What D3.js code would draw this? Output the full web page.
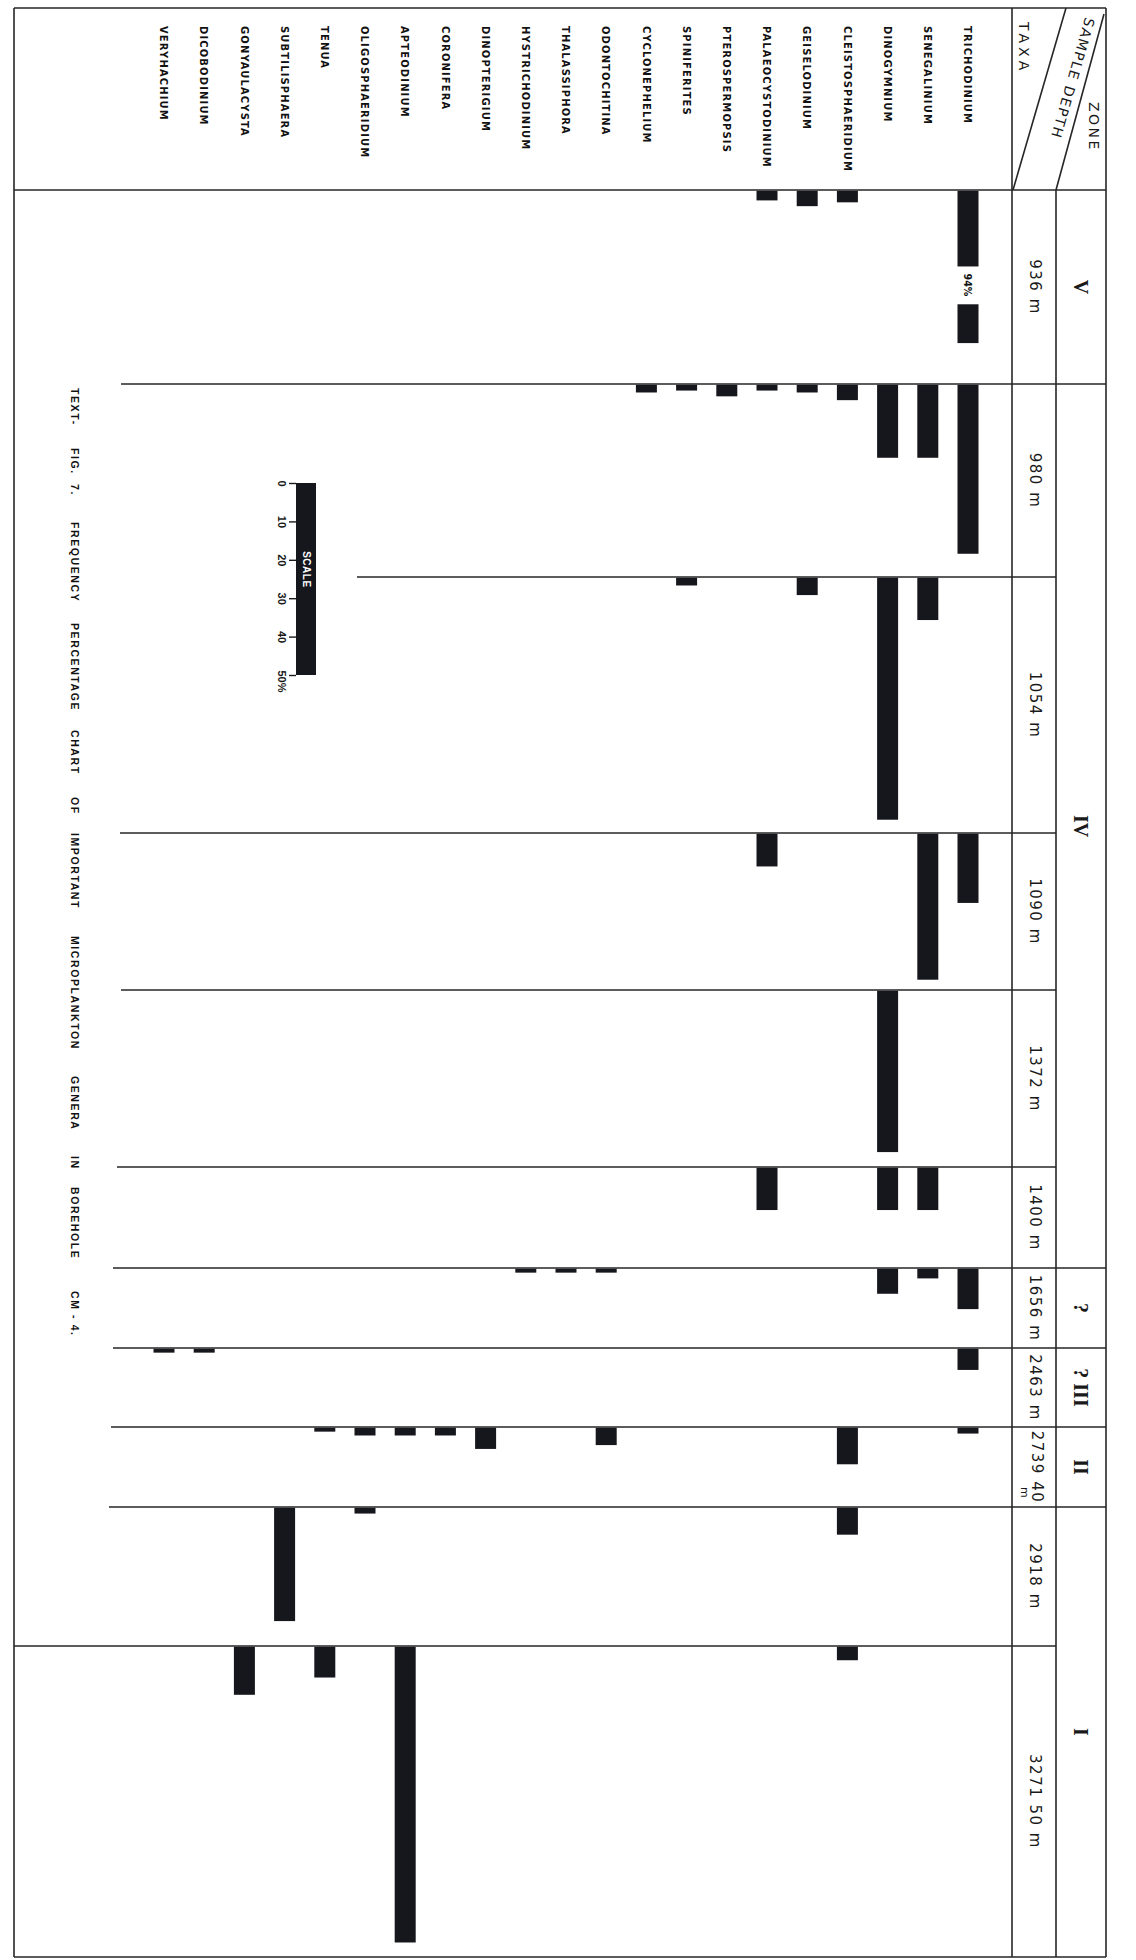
<!DOCTYPE html>
<html>
<head>
<script src="https://cdn.jsdelivr.net/npm/d3@7"></script>
<style type="text/css">
	body { margin: 0; background: #ffffff; }
	.frame { stroke: #262626; stroke-width: 1.6; fill: none; }
	.bar { fill: #16161d; }
	.taxon { font-family: "Liberation Sans Narrow", "DejaVu Sans Condensed", "Liberation Sans", sans-serif; font-weight: bold; font-size: 11px; letter-spacing: 1.2px; fill: #111; }
	.depth { font-family: "DejaVu Sans", sans-serif; font-size: 15px; letter-spacing: 1.5px; fill: #1a1a1a; }
	.zone { font-family: "Liberation Serif", "DejaVu Serif", serif; font-weight: bold; font-size: 20px; fill: #1a1a1a; }
	.head { font-family: "DejaVu Sans", sans-serif; font-size: 14px; fill: #1a1a1a; }
	.title { font-family: "Liberation Sans", sans-serif; font-weight: bold; font-size: 10.5px; letter-spacing: 1.6px; fill: #111; }
	.scale text { font-family: "Liberation Sans", sans-serif; font-weight: bold; font-size: 11px; fill: #1a1a1a; }
</style>
</head>
<body>
<div id="chart"></div>
<script>

// ---- data ----
var taxa = ["TRICHODINIUM", "SENEGALINIUM", "DINOGYMNIUM", "CLEISTOSPHAERIDIUM", "GEISELODINIUM",
	"PALAEOCYSTODINIUM", "PTEROSPERMOPSIS", "SPINIFERITES", "CYCLONEPHELIUM", "ODONTOCHITINA",
	"THALASSIPHORA", "HYSTRICHODINIUM", "DINOPTERIGIUM", "CORONIFERA", "APTEODINIUM",
	"OLIGOSPHAERIDIUM", "TENUA", "SUBTILISPHAERA", "GONYAULACYSTA", "DICOBODINIUM", "VERYHACHIUM"];

var depths = ["936 m", "980 m", "1054 m", "1090 m", "1372 m", "1400 m", "1656 m", "2463 m", "2739 40 m", "2918 m", "3271 50 m"];

// frequency % of each taxon (same order as taxa) in each sample
var f936  = [94, 0, 0, 3, 4, 2.5, 0, 0, 0, 0, 0, 0, 0, 0, 0, 0, 0, 0, 0, 0, 0];
var f980  = [44, 19, 19, 4, 2, 1.5, 3, 1.5, 2, 0, 0, 0, 0, 0, 0, 0, 0, 0, 0, 0, 0];
var f1054 = [0, 11, 63, 0, 4.5, 0, 0, 2, 0, 0, 0, 0, 0, 0, 0, 0, 0, 0, 0, 0, 0];
var f1090 = [18, 38, 0, 0, 0, 8.5, 0, 0, 0, 0, 0, 0, 0, 0, 0, 0, 0, 0, 0, 0, 0];
var f1372 = [0, 0, 42, 0, 0, 0, 0, 0, 0, 0, 0, 0, 0, 0, 0, 0, 0, 0, 0, 0, 0];
var f1400 = [0, 11, 11, 0, 0, 11, 0, 0, 0, 0, 0, 0, 0, 0, 0, 0, 0, 0, 0, 0, 0];
var f1656 = [10.5, 2.5, 6.5, 0, 0, 0, 0, 0, 0, 1, 1, 1, 0, 0, 0, 0, 0, 0, 0, 0, 0];
var f2463 = [5.5, 0, 0, 0, 0, 0, 0, 0, 0, 0, 0, 0, 0, 0, 0, 0, 0, 0, 0, 1, 1];
var f2739 = [1.5, 0, 0, 9.5, 0, 0, 0, 0, 0, 4.5, 0, 0, 5.5, 2, 2, 2, 1, 0, 0, 0, 0];
var f2918 = [0, 0, 0, 7, 0, 0, 0, 0, 0, 0, 0, 0, 0, 0, 0, 1.5, 0, 29.5, 0, 0, 0];
var f3271 = [0, 0, 0, 3.5, 0, 0, 0, 0, 0, 0, 0, 0, 0, 0, 77, 0, 8, 0, 12.5, 0, 0];

var zones = ["V", "IV", "?", "? III", "II", "I"];
var zoneFirst = [0, 1, 6, 7, 8, 9];   // first sample of each zone
var zoneLast  = [0, 5, 6, 7, 8, 10];  // last sample of each zone

var scaleTicks = [0, 10, 20, 30, 40, 50];

var titleWords = ["TEXT-", "FIG.", "7.", "FREQUENCY", "PERCENTAGE", "CHART", "OF", "IMPORTANT",
	"MICROPLANKTON", "GENERA", "IN", "BOREHOLE", "CM - 4."];

var samples = [f936, f980, f1054, f1090, f1372, f1400, f1656, f2463, f2739, f2918, f3271];

// ---- layout ----
var W = 1136, H = 1960;
var frameL = 14, frameR = 1106, frameT = 8, frameB = 1957;
var colTaxaR = 1012, colDepthR = 1056;
var rowEdges = [190, 384, 577, 833, 990, 1167, 1268, 1348, 1427, 1507, 1646, frameB];
var lineStart = [frameL, 121, 357, 120, 121, 117, 113, 113, 111, 109, frameL];
var titleAt = [388, 448, 484, 522, 623, 730, 797, 833, 936, 1076, 1156, 1187, 1291];
var barW = 21;

var svg = d3.select("#chart").append("svg")
	.attr("width", W)
	.attr("height", H);

var x = d3.scalePoint().domain(taxa).range([968, 164]);
var len = d3.scaleLinear().domain([0, 50]).range([0, 192]);

// outer frame and header lines
var frame = svg.append("g").attr("class", "frame");
frame.append("line").attr("x1", frameL).attr("y1", frameT).attr("x2", frameR).attr("y2", frameT);
frame.append("line").attr("x1", frameL).attr("y1", frameT).attr("x2", frameL).attr("y2", frameB);
frame.append("line").attr("x1", frameR).attr("y1", frameT).attr("x2", frameR).attr("y2", frameB);
frame.append("line").attr("x1", frameL).attr("y1", frameB).attr("x2", frameR).attr("y2", frameB);
frame.append("line").attr("x1", colTaxaR).attr("y1", frameT).attr("x2", colTaxaR).attr("y2", frameB);
frame.append("line").attr("x1", colDepthR).attr("y1", rowEdges[0]).attr("x2", colDepthR).attr("y2", frameB);
// the two diagonals of the header cell
frame.append("line").attr("x1", colTaxaR + 1).attr("y1", rowEdges[0]).attr("x2", 1066).attr("y2", frameT);
frame.append("line").attr("x1", colDepthR).attr("y1", rowEdges[0]).attr("x2", 1104).attr("y2", 14);

// row lines (one for each sample)
frame.selectAll("line.row")
	.data(depths)
	.enter().append("line")
	.attr("class", "row")
	.attr("x1", function(d, i) { return lineStart[i]; })
	.attr("x2", colDepthR)
	.attr("y1", function(d, i) { return rowEdges[i]; })
	.attr("y2", function(d, i) { return rowEdges[i]; });

// zone boundaries
frame.selectAll("line.zoneline")
	.data(zones)
	.enter().append("line")
	.attr("class", "zoneline")
	.attr("x1", colDepthR).attr("x2", frameR)
	.attr("y1", function(d, i) { return rowEdges[zoneFirst[i]]; })
	.attr("y2", function(d, i) { return rowEdges[zoneFirst[i]]; });

// header texts
function vtext(g, cls, tx, ty, angle, txt) {
	return g.append("text")
		.attr("class", cls)
		.attr("transform", "translate(" + tx + "," + ty + ") rotate(" + angle + ")")
		.attr("dy", "0.35em")
		.text(txt);
}
vtext(svg, "head", 1024, 22, 90, "TAXA").style("letter-spacing", "4px");
vtext(svg, "head", 1090, 18, 106, "SAMPLE  DEPTH").style("letter-spacing", "1.5px");
vtext(svg, "head", 1094, 102, 90, "ZONE").style("letter-spacing", "2.5px");

// taxa names
svg.selectAll("text.taxon")
	.data(taxa)
	.enter().append("text")
	.attr("class", "taxon")
	.attr("transform", function(d) { return "translate(" + x(d) + ",26) rotate(90)"; })
	.attr("dy", "0.35em")
	.text(function(d) { return d; });

// sample depths
var midX = (colTaxaR + colDepthR) / 2;
depths.forEach(function(d, i) {
	var cy = (rowEdges[i] + rowEdges[i + 1]) / 2;
	var parts = d.split(" m");
	var t = vtext(svg, "depth", midX + 1, cy, 90, d).attr("text-anchor", "middle");
	if (rowEdges[i + 1] - rowEdges[i] < 90 && d.length > 7) {
		// short row: unit tucked under the number
		t.text(parts[0]).attr("dy", "0.2em");
		vtext(svg, "depth", midX - 9, cy + 26, 90, "m").style("font-size", "11px").attr("text-anchor", "middle");
	}
});

// zones
zones.forEach(function(z, i) {
	var cy = (rowEdges[zoneFirst[i]] + rowEdges[zoneLast[i] + 1]) / 2;
	vtext(svg, "zone", (colDepthR + frameR) / 2, cy, 90, z).attr("text-anchor", "middle");
});

// bars
var bars = svg.append("g");
samples.forEach(function(vals, r) {
	var top = rowEdges[r] + 0.8;
	var h = rowEdges[r + 1] - rowEdges[r];
	vals.forEach(function(v, i) {
		if (!v) return;
		var bx = x(taxa[i]) - barW / 2;
		var L = len(v);
		if (L > h - 4) {
			// longer than the row: broken bar with its value written in
			bars.append("rect").attr("class", "bar").attr("x", bx).attr("y", top).attr("width", barW).attr("height", h * 0.39);
			bars.append("rect").attr("class", "bar").attr("x", bx).attr("y", top + h * 0.585).attr("width", barW).attr("height", h * 0.2);
			vtext(bars, "taxon", x(taxa[i]), top + h * 0.485, 90, v + "%")
				.attr("text-anchor", "middle").style("letter-spacing", "0px").style("font-size", "10.5px");
		} else {
			bars.append("rect").attr("class", "bar")
				.attr("x", bx).attr("y", top)
				.attr("width", barW).attr("height", L);
		}
	});
});

// scale bar
var sc = svg.append("g").attr("class", "scale").attr("transform", "translate(296,483)");
sc.append("rect").attr("class", "bar").attr("x", 0).attr("y", 0).attr("width", 20).attr("height", len(50));
sc.call(d3.axisLeft(len).tickValues(scaleTicks).tickSize(7).tickSizeOuter(0)
	.tickFormat(function(d) { return d == 50 ? "50%" : d; }));
sc.select(".domain").remove();
sc.selectAll(".tick line").attr("stroke", "#1a1a1a").attr("stroke-width", 1.4);
sc.selectAll(".tick text")
	.attr("x", 0).attr("y", 0).attr("dy", "0.35em")
	.attr("text-anchor", "middle")
	.attr("font-family", null).attr("font-size", null)
	.attr("transform", function(d) { return "translate(-14," + (d == 50 ? 6 : 0) + ") rotate(90)"; });
sc.append("text")
	.attr("transform", "translate(10," + len(22.5) + ") rotate(90)")
	.attr("dy", "0.35em")
	.attr("text-anchor", "middle")
	.style("fill", "#ffffff")
	.style("font-size", "10px")
	.style("letter-spacing", "0.5px")
	.text("SCALE");

// title along the left side
var tg = svg.append("g").attr("transform", "translate(75,0) rotate(90)");
tg.selectAll("text")
	.data(titleWords)
	.enter().append("text")
	.attr("class", "title")
	.attr("x", function(d, i) { return titleAt[i]; })
	.attr("dy", "0.35em")
	.text(function(d) { return d; });

</script>
</body>
</html>
